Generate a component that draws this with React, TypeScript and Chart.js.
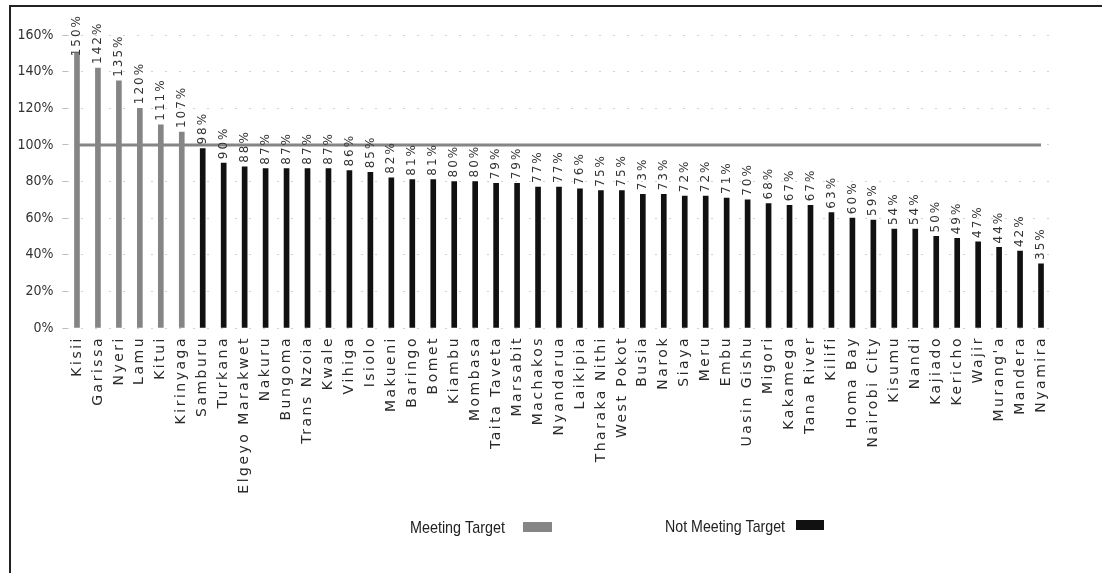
import React, { useEffect, useRef } from "react";
import { Chart, registerables } from "chart.js";

Chart.register(...registerables);

const counties = [
  "Kisii", "Garissa", "Nyeri", "Lamu", "Kitui", "Kirinyaga", "Samburu", "Turkana",
  "Elgeyo Marakwet", "Nakuru", "Bungoma", "Trans Nzoia", "Kwale", "Vihiga", "Isiolo",
  "Makueni", "Baringo", "Bomet", "Kiambu", "Mombasa", "Taita Taveta", "Marsabit",
  "Machakos", "Nyandarua", "Laikipia", "Tharaka Nithi", "West Pokot", "Busia", "Narok",
  "Siaya", "Meru", "Embu", "Uasin Gishu", "Migori", "Kakamega", "Tana River", "Kilifi",
  "Homa Bay", "Nairobi City", "Kisumu", "Nandi", "Kajiado", "Kericho", "Wajir",
  "Murang'a", "Mandera", "Nyamira",
];

const coverage = [
  150, 142, 135, 120, 111, 107, 98, 90,
  88, 87, 87, 87, 87, 86, 85,
  82, 81, 81, 80, 80, 79, 79,
  77, 77, 76, 75, 75, 73, 73,
  72, 72, 71, 70, 68, 67, 67, 63,
  60, 59, 54, 54, 50, 49, 47,
  44, 42, 35,
];

const TARGET = 100;
const targetLine = counties.map(() => TARGET);

const legendItems = ["Meeting Target", "Not Meeting Target"];

const GREY = "#858585";
const BLACK = "#111111";

const framePlugin = {
  id: "frame",
  beforeDraw(chart: any) {
    const { ctx, width, height } = chart;
    ctx.save();
    ctx.fillStyle = "#ffffff";
    ctx.fillRect(0, 0, width, height);
    ctx.strokeStyle = "#222222";
    ctx.lineWidth = 2;
    ctx.beginPath();
    ctx.moveTo(10, height);
    ctx.lineTo(10, 6);
    ctx.lineTo(width, 6);
    ctx.stroke();
    ctx.restore();
  },
};

function fitText(ctx: any, txt: string, x: number, y: number, w: number) {
  const m = ctx.measureText(txt).width;
  const s = w / m;
  ctx.save();
  ctx.translate(x, y);
  ctx.scale(s, 1);
  ctx.fillText(txt, 0, 0);
  ctx.restore();
}

const textPlugin = {
  id: "customText",
  afterDraw(chart: any) {
    const { ctx } = chart;
    const x = chart.scales.x;
    const y = chart.scales.y;
    ctx.save();
    // value labels above the bars
    ctx.fillStyle = "#333333";
    ctx.font = '12px "DejaVu Sans", sans-serif';
    (ctx as any).letterSpacing = "2px";
    ctx.textAlign = "left";
    ctx.textBaseline = "middle";
    coverage.forEach((v, i) => {
      const px = x.getPixelForValue(i);
      let py = y.getPixelForValue(v) - 4;
      const txt = v + "%";
      const w = ctx.measureText(txt).width;
      if (py - w < 14) py = 14 + w;
      ctx.save();
      ctx.translate(px, py);
      ctx.rotate(-Math.PI / 2);
      ctx.fillText(txt, 0, 0);
      ctx.restore();
    });
    // category labels
    ctx.fillStyle = "#2a2a2a";
    ctx.font = '14px "DejaVu Sans", sans-serif';
    (ctx as any).letterSpacing = "2.5px";
    ctx.textAlign = "right";
    const top = chart.chartArea.bottom + 8;
    counties.forEach((c, i) => {
      const px = x.getPixelForValue(i);
      ctx.save();
      ctx.translate(px, top);
      ctx.rotate(-Math.PI / 2);
      ctx.fillText(c, 0, 0);
      ctx.restore();
    });
    // legend
    (ctx as any).letterSpacing = "0px";
    ctx.font = '17px "Liberation Sans", sans-serif';
    ctx.textAlign = "left";
    ctx.textBaseline = "alphabetic";
    ctx.fillStyle = "#222222";
    fitText(ctx, legendItems[0], 410, 533, 95);
    ctx.fillStyle = GREY;
    ctx.fillRect(523, 522, 29, 10);
    ctx.fillStyle = "#222222";
    fitText(ctx, legendItems[1], 665, 532, 120);
    ctx.fillStyle = BLACK;
    ctx.fillRect(796, 520, 28, 10);
    ctx.restore();
  },
};

export default function App() {
  const ref = useRef<HTMLCanvasElement | null>(null);

  useEffect(() => {
    if (!ref.current) return;
    const chart = new Chart(ref.current, {
      type: "bar",
      data: {
        labels: counties,
        datasets: [
          {
            type: "line",
            label: "Target",
            data: targetLine,
            borderColor: GREY,
            borderWidth: 3,
            pointRadius: 0,
            fill: false,
            order: 0,
          } as any,
          {
            type: "bar",
            label: "Coverage",
            data: coverage,
            backgroundColor: coverage.map((v) => (v >= TARGET ? GREY : BLACK)),
            barThickness: 5,
            order: 1,
          },
        ],
      },
      options: {
        responsive: false,
        animation: false,
        layout: { padding: { top: 35, right: 50.5, left: 0, bottom: 0 } },
        plugins: {
          legend: { display: false },
          tooltip: { enabled: false },
          title: { display: false },
        },
        scales: {
          x: {
            grid: { display: false },
            border: { display: false },
            ticks: { display: false },
            afterFit: (scale: any) => {
              scale.height = 245;
            },
          },
          y: {
            min: 0,
            max: 160,
            border: { display: false, dash: [2, 12] },
            grid: {
              color: "#d0d0d0",
              lineWidth: 1,
              tickLength: 4,
              tickColor: "#bbbbbb",
              drawTicks: true,
            } as any,
            ticks: {
              stepSize: 20,
              padding: 9,
              color: "#333333",
              font: { family: '"Liberation Sans Narrow", "DejaVu Sans Condensed", "Liberation Sans", sans-serif', size: 14 },
              callback: (v: any) => v + "%",
            },
            afterFit: (scale: any) => {
              scale.width = 66.5;
            },
          },
        },
      },
      plugins: [framePlugin, textPlugin],
    });
    return () => chart.destroy();
  }, []);

  return (
    <div style={{ position: "fixed", left: 0, top: 0, width: 1102, height: 573, background: "#fff" }}>
      <canvas ref={ref} width={1102} height={573} />
    </div>
  );
}
